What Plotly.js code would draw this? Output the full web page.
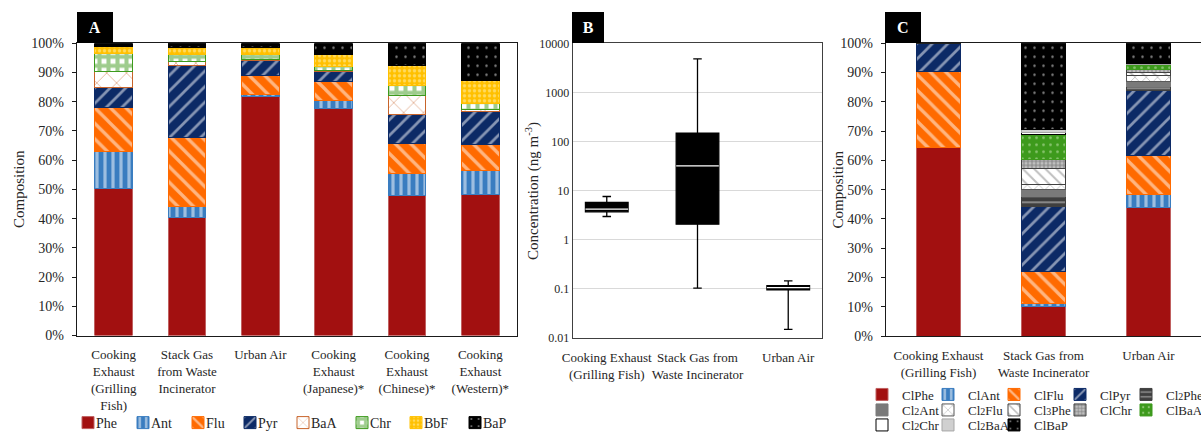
<!DOCTYPE html>
<html><head><meta charset="utf-8">
<script src="https://cdn.plot.ly/plotly-3.0.1.min.js"></script>
<style>
html,body{margin:0;padding:0;background:#fff}
#chart{width:1201px;height:432px}
</style>
</head><body><div id="chart"></div>
<script>
// ---------- Panel A: PAH composition (%) ----------
const catsA = ["Cooking<br>Exhaust<br>(Grilling<br>Fish)", "Stack Gas<br>from Waste<br>Incinerator", "Urban Air",
  "Cooking<br>Exhaust<br>(Japanese)*", "Cooking<br>Exhaust<br>(Chinese)*", "Cooking<br>Exhaust<br>(Western)*"];
const pahNames = ["Phe", "Ant", "Flu", "Pyr", "BaA", "Chr", "BbF", "BaP"];
const Phe = [50.3, 40.5, 81.8, 77.8, 47.9, 48.3];
const Ant = [12.6, 3.6, 0.8, 2.5, 7.4, 8.0];
const Flu = [15.1, 23.8, 6.3, 6.6, 10.5, 9.2];
const Pyr = [7.0, 24.5, 5.1, 3.5, 9.9, 11.0];
const BaA = [5.3, 1.4, 0.6, 0.3, 6.4, 1.0];
const Chr = [6.2, 2.3, 1.7, 1.2, 3.5, 1.8];
const BbF = [2.3, 2.3, 2.4, 4.1, 6.7, 8.0];
const BaP = [1.2, 1.6, 1.3, 4.0, 7.7, 12.7];

// ---------- Panel B: concentration (ng m-3) box stats ----------
const catsB = ["Cooking Exhaust<br>(Grilling Fish)", "Stack Gas from<br>Waste Incinerator", "Urban Air"];
const bMin = [2.95, 0.102, 0.0148];
const bQ1 = [3.67, 2.06, 0.094];
const bMed = [4.17, 31.7, 0.105];
const bQ3 = [5.69, 148, 0.115];
const bMax = [7.55, 4800, 0.144];
const bTicks = [0.01, 0.1, 1, 10, 100, 1000, 10000];
const bTickText = ["0.01", "0.1", "1", "10", "100", "1000", "10000"];

// ---------- Panel C: Cl-PAH composition (%) ----------
const catsC = ["Cooking Exhaust<br>(Grilling Fish)", "Stack Gas from<br>Waste Incinerator", "Urban Air"];
const clNames = ["ClPhe", "ClAnt", "ClFlu", "ClPyr", "Cl<span style='font-size:10px'>2</span>Phe",
  "Cl<span style='font-size:10px'>2</span>Ant", "Cl<span style='font-size:10px'>2</span>Flu",
  "Cl<span style='font-size:10px'>3</span>Phe", "ClChr", "ClBaA",
  "Cl<span style='font-size:10px'>2</span>Chr", "Cl<span style='font-size:10px'>2</span>BaA", "ClBaP"];
const ClPhe = [64.5, 10.0, 43.8];
const ClAnt = [0, 1.2, 4.4];
const ClFlu = [26.0, 10.8, 13.3];
const ClPyr = [9.5, 22.2, 22.3];
const Cl2Phe = [0, 3.6, 1.4];
const Cl2Ant = [0, 2.3, 1.7];
const Cl2Flu = [0, 1.8, 2.1];
const Cl3Phe = [0, 5.2, 1.0];
const ClChr = [0, 3.3, 1.0];
const ClBaA = [0, 8.3, 1.7];
const Cl2Chr = [0, 0.8, 0.2];
const Cl2BaA = [0, 0.9, 0.2];
const ClBaP = [0, 29.6, 6.9];

// ---------- styles ----------
const FONT = "Liberation Serif";
const TXT = "#262626";
const RED = "#a21010", BLUE = "#3a7dc0", ORANGE = "#ff6a00", NAVY = "#0c2a66",
      BROWN = "#c8642a", GREEN = "#3d9a1c", GOLD = "#ffc000";

function pat(shape, bg, fg, size, solidity) {
  if (!shape) return undefined;
  return {shape: shape, bgcolor: bg, fgcolor: fg, size: size, solidity: solidity, fillmode: "overlay"};
}
const stylesA = [
  {c: RED, l: "#c06060"},
  {c: BLUE, l: BLUE, p: pat("|", BLUE, "#ffffff", 8, 0.4)},
  {c: ORANGE, l: ORANGE, p: pat("\\", ORANGE, "#ffffff", 11, 0.3)},
  {c: NAVY, l: NAVY, p: pat("/", NAVY, "#ffffff", 11, 0.25)},
  {c: "#ffffff", l: BROWN, p: pat("x", "#ffffff", BROWN, 14, 0.12)},
  {c: GREEN, l: GREEN, p: pat("+", "#ffffff", GREEN, 9, 0.7)},
  {c: GOLD, l: GOLD, p: pat(".", GOLD, "#fff4c0", 5, 0.35)},
  {c: "#000000", l: "#000000", p: pat(".", "#000000", "#ffffff", 9, 0.06)}
];
const seriesA = [Phe, Ant, Flu, Pyr, BaA, Chr, BbF, BaP];
const legWidthA = [10, 10, 7, 8, 14, 9, 14, 30];

const stylesC = [
  {c: RED, l: "#c06060"},
  {c: BLUE, l: BLUE, p: pat("|", BLUE, "#ffffff", 8, 0.4)},
  {c: ORANGE, l: ORANGE, p: pat("\\", ORANGE, "#ffffff", 11, 0.3)},
  {c: NAVY, l: NAVY, p: pat("/", NAVY, "#ffffff", 11, 0.25)},
  {c: "#3f3f3f", l: "#3f3f3f", p: pat("-", "#3f3f3f", "#ffffff", 6, 0.25)},
  {c: "#7a7a7a", l: "#7a7a7a"},
  {c: "#ffffff", l: "#595959", p: pat("x", "#ffffff", "#7f7f7f", 8, 0.2)},
  {c: "#ffffff", l: "#404040", p: pat("\\", "#ffffff", "#7f7f7f", 8, 0.25)},
  {c: "#8c8c8c", l: "#404040", p: pat("+", "#bfbfbf", "#404040", 4, 0.4)},
  {c: GREEN, l: GREEN, p: pat(".", GREEN, "#d8f0c8", 7, 0.12)},
  {c: "#ffffff", l: "#000000"},
  {c: "#d0d0d0", l: "#a6a6a6"},
  {c: "#000000", l: "#000000", p: pat(".", "#000000", "#ffffff", 9, 0.06)}
];
const seriesC = [ClPhe, ClAnt, ClFlu, ClPyr, Cl2Phe, Cl2Ant, Cl2Flu, Cl3Phe, ClChr, ClBaA, Cl2Chr, Cl2BaA, ClBaP];
const legendOfC = ["legend2", "legend2", "legend2", "legend2", "legend2",
  "legend3", "legend3", "legend3", "legend3", "legend3",
  "legend4", "legend4", "legend4"];

const data = [];
seriesA.forEach((vals, i) => {
  const s = stylesA[i];
  const m = {color: s.c, line: {color: s.l, width: 1}};
  if (s.p) m.pattern = s.p;
  data.push({type: "bar", x: catsA, y: vals, name: pahNames[i], xaxis: "x", yaxis: "y",
    width: 0.51, marker: m, legend: "legend", legendwidth: legWidthA[i], hoverinfo: "skip"});
});

data.push({type: "box", x: catsB, q1: bQ1, median: bMed, q3: bQ3, lowerfence: bMin, upperfence: bMax,
  xaxis: "x2", yaxis: "y2", width: 0.47, whiskerwidth: 0.2, fillcolor: "#000000",
  line: {color: "#000000", width: 1.3}, showlegend: false, hoverinfo: "skip", boxpoints: false});
// white median line overlay
data.push({type: "box", x: catsB, q1: bMed, median: bMed, q3: bMed, lowerfence: bMed, upperfence: bMed,
  xaxis: "x2", yaxis: "y2", width: 0.47, whiskerwidth: 0, fillcolor: "rgba(0,0,0,0)",
  line: {color: "#ffffff", width: 1.3}, showlegend: false, hoverinfo: "skip", boxpoints: false});

seriesC.forEach((vals, i) => {
  const s = stylesC[i];
  const m = {color: s.c, line: {color: s.l, width: 1}};
  if (s.p) m.pattern = s.p;
  const tr = {type: "bar", x: catsC, y: vals, name: clNames[i], xaxis: "x3", yaxis: "y3",
    width: 0.42, marker: m, legend: legendOfC[i], hoverinfo: "skip"};
  if (i === 4 || i === 9) tr.legendwidth = 30;
  if (i === 12) tr.legendwidth = 40;
  data.push(tr);
});

const tickFont = {family: FONT, size: 14, color: TXT};
const catFont = {family: FONT, size: 13, color: TXT};
const legFontA = {family: FONT, size: 14, color: TXT};
const legFontC = {family: FONT, size: 13, color: TXT};

function legendAt(x, y, ew, f) {
  return {orientation: "h", x: x, y: y, xanchor: "left", yanchor: "middle", font: f,
    traceorder: "normal", entrywidth: ew, entrywidthmode: "pixels", bgcolor: "rgba(0,0,0,0)",
    borderwidth: 0, itemclick: false, itemdoubleclick: false};
}

const H = 432, W = 1201;
function panelLabel(txt, xpx, wpx) {
  return {text: "<b>" + txt + "</b>", xref: "paper", yref: "paper", x: xpx / W, y: (H - 43.3) / H,
    xanchor: "left", yanchor: "bottom", showarrow: false, bgcolor: "#000000",
    font: {family: FONT, size: 16, color: "#ffffff"}, width: wpx, height: 31, borderpad: 0, borderwidth: 0,
    align: "center", valign: "middle"};
}
function yTitle(txt, xpx, yMidPx) {
  return {text: txt, xref: "paper", yref: "paper", x: xpx / W, y: (H - yMidPx) / H, textangle: -90,
    xanchor: "center", yanchor: "middle", showarrow: false, font: {family: FONT, size: 15, color: TXT}};
}

const layout = {
  width: W, height: H, margin: {l: 0, r: 0, t: 0, b: 0, autoexpand: false},
  paper_bgcolor: "#ffffff", plot_bgcolor: "#ffffff",
  barmode: "stack", boxmode: "overlay",
  font: {family: FONT, color: TXT},
  xaxis: {domain: [77 / W, 517 / W], anchor: "y", type: "category", tickfont: catFont, tickangle: 0,
    showline: true, mirror: true, linecolor: "#1a1a1a", linewidth: 1.3, ticks: "", ticklabelstandoff: 7,
    fixedrange: true},
  yaxis: {domain: [(H - 335.5) / H, (H - 43.3) / H], anchor: "x", range: [0, 100], dtick: 10,
    ticksuffix: "%", tickfont: tickFont, showline: true, mirror: true, linecolor: "#1a1a1a", linewidth: 1.3,
    ticks: "outside", ticklen: 4, tickcolor: "#1a1a1a", ticklabelstandoff: 5, showgrid: false, zeroline: false,
    fixedrange: true},
  xaxis2: {domain: [573 / W, 822 / W], anchor: "y2", type: "category", tickfont: catFont, tickangle: 0,
    showline: true, mirror: true, linecolor: "#404040", linewidth: 1.3, ticks: "", ticklabelstandoff: 7,
    fixedrange: true},
  yaxis2: {domain: [(H - 337.7) / H, (H - 43.3) / H], anchor: "x2", type: "log", range: [-2, 4],
    tickvals: bTicks, ticktext: bTickText, tickfont: {family: FONT, size: 12, color: TXT},
    showline: true, mirror: true, linecolor: "#404040", linewidth: 1.3, ticks: "",
    showgrid: true, gridcolor: "#d9d9d9", gridwidth: 1, zeroline: false, fixedrange: true},
  xaxis3: {domain: [886 / W, 1], anchor: "y3", type: "category", tickfont: catFont, tickangle: 0,
    showline: true, mirror: true, linecolor: "#1a1a1a", linewidth: 1.3, ticks: "", ticklabelstandoff: 7,
    fixedrange: true},
  yaxis3: {domain: [(H - 336) / H, (H - 43.3) / H], anchor: "x3", range: [0, 100], dtick: 10,
    ticksuffix: "%", tickfont: tickFont, showline: true, mirror: true, linecolor: "#1a1a1a", linewidth: 1.3,
    ticks: "outside", ticklen: 4, tickcolor: "#1a1a1a", ticklabelstandoff: 5, showgrid: false, zeroline: false,
    fixedrange: true},
  legend: legendAt(68 / W, (H - 423) / H, 10, legFontA),
  legend2: legendAt(862 / W, (H - 394.5) / H, 21, legFontC),
  legend3: legendAt(862 / W, (H - 410) / H, 21, legFontC),
  legend4: legendAt(862 / W, (H - 425) / H, 21, legFontC),
  annotations: [
    panelLabel("A", 77, 35.7), panelLabel("B", 572.3, 32.4), panelLabel("C", 885, 35.7),
    yTitle("Composition", 19, 189), yTitle("Concentration (ng m<sup>-3</sup>)", 532, 191),
    yTitle("Composition", 837.5, 189)
  ]
};

// tighten the gap between each legend swatch and its label (every legend)
function tightenLegends() {
  document.querySelectorAll("#chart text.legendtext").forEach(t => {
    t.setAttribute("x", 28);
    t.querySelectorAll("tspan.line").forEach(s => s.setAttribute("x", 28));
  });
}
Plotly.newPlot("chart", data, layout, {displayModeBar: false, staticPlot: true}).then(gd => {
  tightenLegends();
  gd.on("plotly_afterplot", tightenLegends);
  setTimeout(tightenLegends, 30);
});
</script>
</body></html>
